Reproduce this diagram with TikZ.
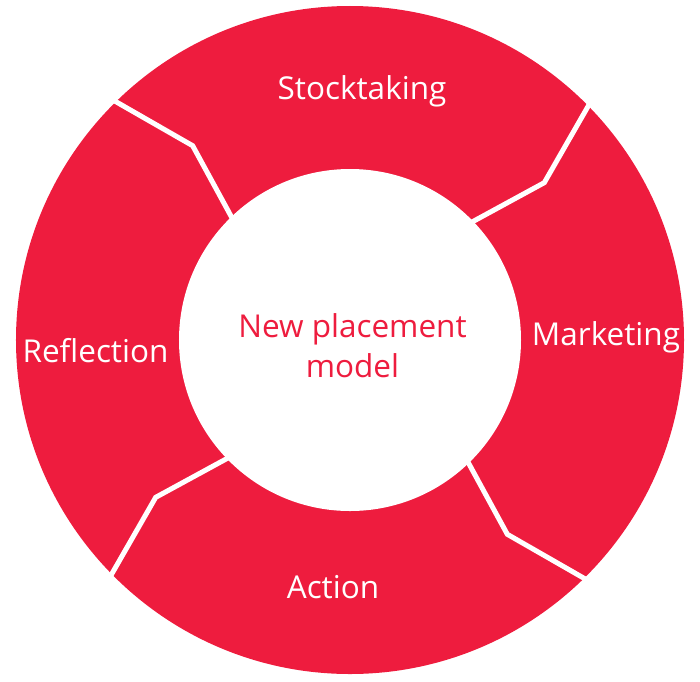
\documentclass[tikz,border=0pt]{standalone}
\usepackage{fontspec}
\setmainfont{Open Sans}
\definecolor{ringred}{RGB}{238,28,62}
\begin{document}
\begin{tikzpicture}[x=1pt, y=1pt]
	\useasboundingbox (-350,-341) rectangle (350,340);
	% Ring
	\fill[ringred] (0,0) circle (334);
	\fill[white] (0,0) circle (171);
	% Separators (chevrons)
	\foreach \a in {45,135,225,315} {
		\draw[white, line width=5pt, line join=miter] (\a:160) -- (\a-6:250) -- (\a:345);
	}
	% Labels
	\node[anchor=base, text=white, font=\fontsize{31.5}{40}\selectfont] (stock) at (12,241) {Stocktaking};
	\node[anchor=base, text=white, font=\fontsize{31.5}{40}\selectfont] (market) at (256,-5) {Marketing};
	\node[anchor=base, text=white, font=\fontsize{31.5}{40}\selectfont] (action) at (-17,-258) {Action};
	\node[anchor=base, text=white, font=\fontsize{31.5}{40}\selectfont] (reflect) at (-254.5,-22) {Reflection};
	\node[anchor=base, text=ringred, align=center, font=\fontsize{31.5}{40}\selectfont] (model) at (2.5,-37) {New placement\\model};
\end{tikzpicture}
\end{document}
